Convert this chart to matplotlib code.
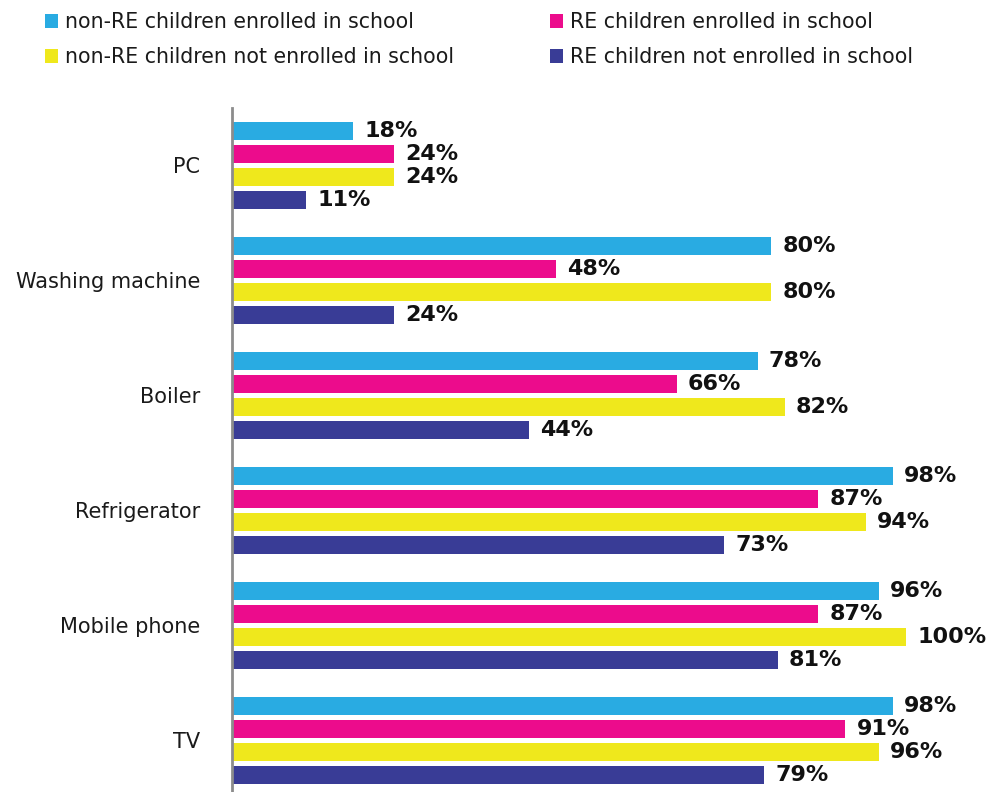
import matplotlib
matplotlib.use("Agg")
import matplotlib.pyplot as plt
import numpy as np

categories = ["PC", "Washing machine", "Boiler", "Refrigerator", "Mobile phone", "TV"]
series_names = [
    "non-RE children enrolled in school",
    "RE children enrolled in school",
    "non-RE children not enrolled in school",
    "RE children not enrolled in school",
]
non_re_enrolled = [18, 80, 78, 98, 96, 98]
re_enrolled = [24, 48, 66, 87, 87, 91]
non_re_not_enrolled = [24, 80, 82, 94, 100, 96]
re_not_enrolled = [11, 24, 44, 73, 81, 79]

series = [non_re_enrolled, re_enrolled, non_re_not_enrolled, re_not_enrolled]
colors = ["#29ABE2", "#EC0C8C", "#EFE81C", "#393C96"]

plt.rcParams["font.family"] = ["DejaVu Sans"]

fig = plt.figure(figsize=(9.93, 7.92), dpi=100)
ax = fig.add_axes([232 / 993, 0, 1 - 232 / 993, 1 - 108 / 792])

group_step = 5
bar_h = 0.82
base = np.arange(len(categories)) * group_step
handles = []
for j, (vals, col) in enumerate(zip(series, colors)):
    y = base + j
    h = ax.barh(y, vals, height=bar_h, color=col, label=series_names[j])
    handles.append(h)
    for yi, v in zip(y, vals):
        ax.annotate(f"{v}%", xy=(v, yi), xytext=(8, 0), textcoords="offset points",
                    ha="left", va="center", fontsize=16, fontweight="bold",
                    color="#111111")

ax.set_xlim(0, (993 - 232) / 6.74)
ax.set_ylim(28.74, -1.0)
ax.set_yticks(base + 1.5)
ax.set_yticklabels(categories, fontsize=15, color="#1a1a1a")
ax.tick_params(axis="y", length=0, pad=23)
ax.set_xticks([])
for s in ["top", "right", "bottom"]:
    ax.spines[s].set_visible(False)
ax.spines["left"].set_color("#8c8c8c")
ax.spines["left"].set_linewidth(2)

order = [0, 2, 1, 3]
leg = fig.legend([handles[i] for i in order], [series_names[i] for i in order],
                 ncol=2, loc="upper left", bbox_to_anchor=(26 / 993, 1 + 6 / 792),
                 frameon=False, fontsize=14.8, handlelength=0.65, handleheight=0.65,
                 handletextpad=0.35, columnspacing=4.65, labelspacing=0.72)
for t in leg.get_texts():
    t.set_color("#1a1a1a")

fig.savefig("out.png", dpi=100)
